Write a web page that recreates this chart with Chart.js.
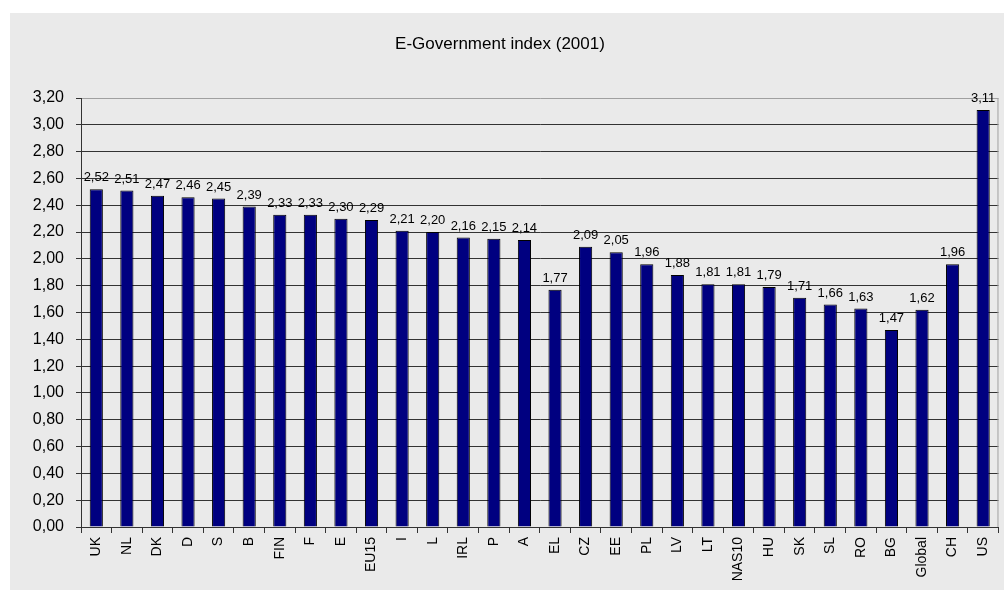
<!DOCTYPE html>
<html lang="en">
  <head>
    <meta charset="UTF-8" />
    <title>E-Government index (2001)</title>
    <script src="https://cdn.jsdelivr.net/npm/chart.js"></script>
    <style>
      * {
        box-sizing: border-box;
        padding: 0;
        margin: 0;
      }
      body {
        width: 1004px;
        height: 590px;
        background: #ffffff;
        position: relative;
        overflow: hidden;
      }
      .panel {
        position: absolute;
        left: 10px;
        top: 13px;
        width: 994px;
        height: 577px;
        background: #eaeaea;
      }
    </style>
  </head>
  <body>
    <div class="panel">
      <canvas id="myChart" width="994" height="577"></canvas>
    </div>
  </body>
  <script>
    const countries = [
      "UK", "NL", "DK", "D", "S", "B", "FIN", "F", "E", "EU15",
      "I", "L", "IRL", "P", "A", "EL", "CZ", "EE", "PL", "LV",
      "LT", "NAS10", "HU", "SK", "SL", "RO", "BG", "Global", "CH", "US",
    ];
    const indexValues = [
      2.52, 2.51, 2.47, 2.46, 2.45, 2.39, 2.33, 2.33, 2.30, 2.29,
      2.21, 2.20, 2.16, 2.15, 2.14, 1.77, 2.09, 2.05, 1.96, 1.88,
      1.81, 1.81, 1.79, 1.71, 1.66, 1.63, 1.47, 1.62, 1.96, 3.11,
    ];
    const yTicks = [0, 0.2, 0.4, 0.6, 0.8, 1.0, 1.2, 1.4, 1.6, 1.8, 2.0, 2.2, 2.4, 2.6, 2.8, 3.0, 3.2];

    const FONT = "'Liberation Sans', Arial, sans-serif";
    const TITLE = "E-Government index (2001)";
    const comma = (v) => v.toFixed(2).replace(".", ",");

    // title, value labels above each bar, and the grey frame on the right
    const barLabels = {
      id: "barLabels",
      afterDatasetsDraw(chart) {
        const { ctx, chartArea } = chart;
        ctx.save();
        ctx.strokeStyle = "#a0a0a0";
        ctx.lineWidth = 1;
        ctx.beginPath();
        ctx.moveTo(chartArea.right - 0.5, chartArea.top);
        ctx.lineTo(chartArea.right - 0.5, chartArea.bottom);
        ctx.stroke();

        ctx.fillStyle = "#000";
        ctx.textAlign = "center";
        ctx.textBaseline = "middle";
        ctx.font = "17px " + FONT;
        ctx.fillText(TITLE, 490, 31);

        ctx.font = "13px " + FONT;
        ctx.textBaseline = "bottom";
        chart.getDatasetMeta(0).data.forEach((bar, i) => {
          ctx.fillText(comma(indexValues[i]), bar.x, bar.y - 5);
        });
        ctx.restore();
      },
    };

    const ctx = document.getElementById("myChart").getContext("2d");
    const myChart = new Chart(ctx, {
      type: "bar",
      data: {
        labels: countries,
        datasets: [
          {
            data: indexValues,
            backgroundColor: "#000080",
            borderColor: "#000000",
            borderWidth: 1,
            barPercentage: 0.43,
            categoryPercentage: 1,
          },
        ],
      },
      plugins: [barLabels],
      options: {
        responsive: false,
        animation: false,
        layout: { padding: { left: 0, right: 1, top: 85, bottom: 0 } },
        plugins: {
          legend: { display: false },
          tooltip: { enabled: false },
        },
        scales: {
          x: {
            offset: true,
            grid: {
              offset: true,
              drawOnChartArea: false,
              drawTicks: true,
              tickLength: 6,
              tickColor: "#333",
            },
            border: { color: "#333", width: 1 },
            ticks: {
              color: "#000",
              font: { family: FONT, size: 14 },
              minRotation: 90,
              maxRotation: 90,
              autoSkip: false,
              padding: 4,
            },
            afterFit(scale) {
              scale.height = 63;
            },
          },
          y: {
            min: 0,
            max: 3.2,
            afterBuildTicks(scale) {
              scale.ticks = yTicks.map((v) => ({ value: v }));
            },
            grid: {
              color: (c) => (c.tick && c.tick.value >= 3.2 ? "#a0a0a0" : "#333"),
              tickColor: "#333",
              tickLength: 5,
              drawTicks: true,
            },
            border: { color: "#333", width: 1 },
            ticks: {
              color: "#000",
              font: { family: FONT, size: 16 },
              padding: 12,
              callback: (v) => comma(v),
            },
            afterFit(scale) {
              scale.width = 71;
            },
          },
        },
      },
    });
  </script>
</html>
